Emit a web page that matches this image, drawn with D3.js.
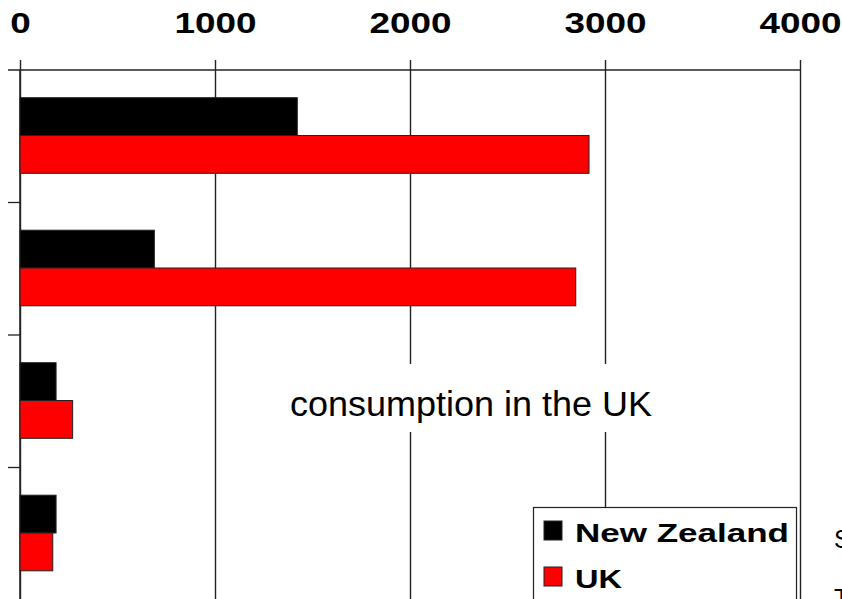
<!DOCTYPE html>
<html>
<head>
<meta charset="utf-8">
<script src="https://cdn.jsdelivr.net/npm/d3@7"></script>
<style>
  html, body { margin: 0; padding: 0; background: #fff; overflow: hidden; }
  svg { display: block; }
</style>
</head>
<body>
<script>
// Consumption by product group: New Zealand vs UK
const categories = ["Group 1", "Group 2", "Group 3", "Group 4"];
const series = ["New Zealand", "UK"];
const newZealand = [1422, 689, 185, 185];
const uk = [2918, 2850, 270, 168];
const xTicks = [0, 1000, 2000, 3000, 4000];
const colors = ["#000000", "#ff0000"];
const annotation = "consumption in the UK";

const W = 842, H = 599;
const svg = d3.select("body").append("svg").attr("width", W).attr("height", H);

const plot = { left: 20, right: 800, top: 70, bottom: 600 };
const x = d3.scaleLinear().domain([0, 4000]).range([plot.left, plot.right]);
const y = d3.scaleBand().domain(categories).range([plot.top, plot.bottom]);
const sub = d3.scaleBand().domain(series).range([27.7, 103.3]);

// vertical gridlines
svg.append("g")
  .attr("transform", `translate(0,${plot.top})`)
  .call(d3.axisTop(x).tickValues(xTicks).tickSize(-(plot.bottom - plot.top)).tickFormat(""))
  .call(g => g.select(".domain").remove())
  .call(g => g.selectAll("line").attr("stroke", "#222").attr("stroke-width", 1.4));

// top axis with labels
const xAxis = svg.append("g")
  .attr("transform", `translate(0,${plot.top})`)
  .call(d3.axisTop(x).tickValues(xTicks).tickSize(10).tickPadding(27).tickSizeOuter(0).tickFormat(d3.format("d")));
xAxis.select(".domain").remove();
xAxis.selectAll("line").attr("stroke", "#222").attr("stroke-width", 1.4);
xAxis.selectAll("text")
  .attr("fill", "#000")
  .style("font-family", "'Liberation Sans', Arial, sans-serif")
  .style("font-weight", "bold")
  .style("font-size", "29px")
  .attr("textLength", d => String(d).length * 20.5)
  .attr("lengthAdjust", "spacingAndGlyphs");

// top rule
svg.append("line")
  .attr("x1", 8).attr("x2", plot.right)
  .attr("y1", plot.top).attr("y2", plot.top)
  .attr("stroke", "#222").attr("stroke-width", 1.5);

// left rule and category ticks
svg.append("line")
  .attr("x1", plot.left).attr("x2", plot.left)
  .attr("y1", plot.top).attr("y2", plot.bottom)
  .attr("stroke", "#222").attr("stroke-width", 1.5);
svg.append("g").selectAll("line")
  .data(categories.slice(1))
  .join("line")
  .attr("x1", 8).attr("x2", plot.left)
  .attr("y1", d => y(d)).attr("y2", d => y(d))
  .attr("stroke", "#222").attr("stroke-width", 1.3);

// bars
const rows = categories.map((c, i) => ({ cat: c, values: [newZealand[i], uk[i]] }));
svg.append("g").selectAll("g")
  .data(rows)
  .join("g")
  .attr("transform", d => `translate(0,${y(d.cat)})`)
  .selectAll("rect")
  .data(d => d.values.map((v, j) => ({ s: series[j], v, j })))
  .join("rect")
  .attr("x", x(0))
  .attr("y", d => sub(d.s))
  .attr("width", d => x(d.v) - x(0))
  .attr("height", sub.bandwidth())
  .attr("fill", d => colors[d.j])
  .attr("stroke", "#222")
  .attr("stroke-width", 1);

// annotation with white backing
svg.append("rect")
  .attr("x", 282).attr("y", 364).attr("width", 378).attr("height", 68)
  .attr("fill", "#fff");
svg.append("text")
  .attr("x", 290).attr("y", 416)
  .attr("textLength", 362).attr("lengthAdjust", "spacingAndGlyphs")
  .style("font-family", "'Liberation Sans', Arial, sans-serif")
  .style("font-size", "35px")
  .attr("fill", "#000")
  .text(annotation);

// legend
const legend = svg.append("g");
legend.append("rect")
  .attr("x", 533.5).attr("y", 507.5).attr("width", 263).attr("height", 100)
  .attr("fill", "#fff").attr("stroke", "#222").attr("stroke-width", 1.2);
const legendTextLen = [214, 47];
series.forEach((s, i) => {
  const ly = 521 + i * 46;
  legend.append("rect")
    .attr("x", 544).attr("y", ly).attr("width", 18).attr("height", 19)
    .attr("fill", colors[i]).attr("stroke", "#222").attr("stroke-width", 1);
  legend.append("text")
    .attr("x", 575).attr("y", ly + 21)
    .attr("textLength", legendTextLen[i]).attr("lengthAdjust", "spacingAndGlyphs")
    .style("font-family", "'Liberation Sans', Arial, sans-serif")
    .style("font-weight", "bold")
    .style("font-size", "26px")
    .attr("fill", "#000")
    .text(s);
});

// side note, running off the right edge
svg.append("text")
  .attr("x", 834).attr("y", 548)
  .style("font-family", "'Liberation Sans', Arial, sans-serif")
  .style("font-size", "25px")
  .text("S");
svg.append("text")
  .attr("x", 834).attr("y", 607)
  .style("font-family", "'Liberation Sans', Arial, sans-serif")
  .style("font-size", "25px")
  .text("T");
</script>
</body>
</html>
